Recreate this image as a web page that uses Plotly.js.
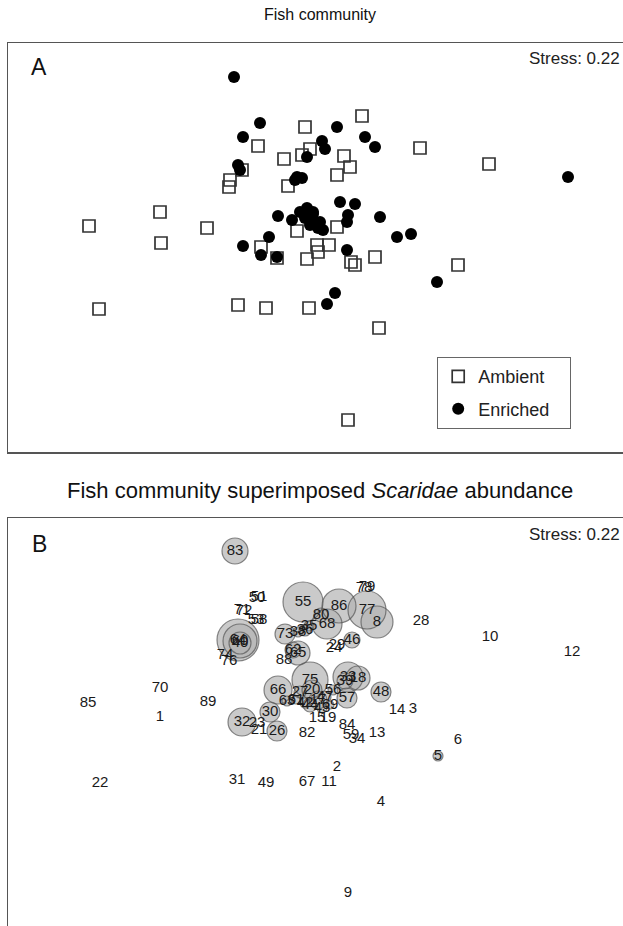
<!DOCTYPE html>
<html>
<head>
<meta charset="utf-8">
<script src="https://cdn.plot.ly/plotly-3.0.1.min.js"></script>
<style>
html,body{margin:0;padding:0;overflow:hidden;background:#fff;}
#chart{width:632px;height:940px;}
</style>
</head>
<body>
<div id="chart"></div>
<script>
// ---- Panel A: NMDS coordinates by treatment ----
const ambientX = [0.42,-0.15,-0.62,-0.10,-0.18,-0.36,0.24,0.30,0.17,1.00,1.69,-0.78,-0.90,-0.91,-0.32,-1.60,-2.31,-1.13,0.17,-1.59,-0.23,-0.03,0.09,-0.59,-0.43,-0.13,0.31,0.35,0.55,1.38,-2.21,-0.82,-0.54,-0.11,0.59,0.28,-0.02];
const ambientY = [1.34,1.23,1.04,1.01,0.95,0.91,0.94,0.83,0.75,1.02,0.86,0.80,0.70,0.63,0.64,0.38,0.24,0.22,0.23,0.07,0.19,0.05,0.05,0.03,-0.08,-0.09,-0.12,-0.15,-0.07,-0.15,-0.59,-0.55,-0.58,-0.58,-0.78,-1.70,-0.02];
const enrichedX = [-0.86,-0.60,-0.77,0.17,0.02,0.05,0.45,0.55,-0.13,-0.82,-0.80,-0.23,-0.18,-0.25,2.48,-0.42,-0.28,-0.13,-0.07,-0.15,-0.08,-0.05,-0.02,0.03,-0.10,0.00,0.20,0.35,0.28,0.27,0.60,0.77,0.91,-0.51,-0.77,-0.59,-0.43,0.27,0.15,0.07,1.17,-0.07,-0.20];
const enrichedY = [1.73,1.27,1.13,1.23,1.09,1.01,1.13,1.03,0.93,0.85,0.80,0.73,0.72,0.70,0.73,0.34,0.30,0.42,0.38,0.32,0.30,0.27,0.22,0.20,0.25,0.28,0.48,0.46,0.35,0.28,0.33,0.13,0.16,0.13,0.04,-0.05,-0.07,0.00,-0.43,-0.54,-0.32,0.36,0.38];
const groupNames = ['Ambient', 'Enriched'];

// ---- Panel B: sites with Scaridae abundance ----
const siteLabels = ["83","55","86","68","80","77","8","73","46","38","36","35","64","60","40","65","62","66","75","20","27","17","42","47","61","43","44","69","63","56","33","18","39","48","57","32","30","26","5",
  "79","78","51","50","72","71","58","53","24","29","76","74","88","28","10","12","85","70","1","89","22","31","49","67","11","2","4","9","14","3","13","6","84","59","34","15","19","82","23","21"];
const siteX = [-0.85,-0.17,0.19,0.07,0.01,0.47,0.57,-0.35,0.32,-0.22,-0.15,-0.11,-0.82,-0.80,-0.80,-0.22,-0.27,-0.42,-0.10,-0.08,-0.20,-0.02,-0.15,0.05,-0.24,0.02,-0.10,0.10,-0.33,0.13,0.28,0.38,0.25,0.61,0.27,-0.78,-0.50,-0.43,1.18,
  0.47,0.44,-0.61,-0.63,-0.76,-0.78,-0.61,-0.64,0.14,0.17,-0.91,-0.95,-0.36,1.01,1.70,2.52,-2.32,-1.60,-1.60,-1.12,-2.20,-0.83,-0.54,-0.13,0.09,0.17,0.61,0.28,0.77,0.93,0.57,1.38,0.27,0.31,0.37,-0.03,0.08,-0.13,-0.63,-0.61];
const siteY = [1.74,1.23,1.19,1.01,1.10,1.15,1.03,0.91,0.85,0.93,0.95,0.99,0.85,0.84,0.82,0.72,0.75,0.35,0.45,0.35,0.33,0.25,0.22,0.28,0.25,0.17,0.20,0.20,0.24,0.35,0.48,0.47,0.44,0.33,0.27,0.03,0.13,-0.06,-0.31,
  1.38,1.37,1.28,1.27,1.14,1.15,1.05,1.05,0.77,0.80,0.64,0.70,0.65,1.04,0.88,0.73,0.22,0.37,0.08,0.23,-0.58,-0.55,-0.58,-0.57,-0.57,-0.42,-0.77,-1.68,0.15,0.16,-0.08,-0.15,0.00,-0.10,-0.14,0.07,0.07,-0.08,0.02,-0.05];
const scaridae = [13,20,17,15,7,19,16,10,8,5,6,5,21,17,11,12,8,14,18,10,6,9,5,6,4,5,7,4,5,5,15,12,8,10,10,14,10,10,5,
  0,0,0,0,0,0,0,0,0,0,0,0,0,0,0,0,0,0,0,0,0,0,0,0,0,0,0,0,0,0,0,0,0,0,0,0,0,0,0,0];

const FONT = '"Liberation Sans", Arial, Helvetica, sans-serif';
const PAD = '\u00a0\u00a0\u00a0'; // widens the legend box like the reference

const bx = [], by = [], bs = [];
for (let i = 0; i < siteLabels.length; i++) {
  if (scaridae[i] > 0) { bx.push(siteX[i]); by.push(siteY[i]); bs.push(scaridae[i]); }
}

const traces = [
  {type:'scatter', mode:'markers', name:groupNames[0], x:ambientX, y:ambientY, xaxis:'x', yaxis:'y',
   legendgroup:'a', marker:{symbol:'square-open', size:12, color:'#333', line:{width:1.7, color:'#333'}}},
  {type:'scatter', mode:'markers', name:groupNames[1] + PAD, x:enrichedX, y:enrichedY, xaxis:'x', yaxis:'y',
   legendgroup:'e', marker:{symbol:'circle', size:12, color:'#000'}},
  {type:'scatter', mode:'markers', x:bx, y:by, xaxis:'x2', yaxis:'y2', showlegend:false, hoverinfo:'skip',
   marker:{symbol:'circle', size:bs, sizemode:'diameter', sizeref:0.5, color:'#b3b3b3', line:{width:0}}},
  {type:'scatter', mode:'markers', x:bx, y:by, xaxis:'x2', yaxis:'y2', showlegend:false, hoverinfo:'skip',
   marker:{symbol:'circle-open', size:bs, sizemode:'diameter', sizeref:0.5, color:'#555', line:{width:1.2, color:'#555'}}},
  {type:'scatter', mode:'text', x:siteX, y:siteY, text:siteLabels, xaxis:'x2', yaxis:'y2', showlegend:false,
   textposition:'middle center', textfont:{family:FONT, size:15, color:'#1a1a1a'}}
];

const H = 940, L = 8, PW = 623;
const py = p => 1 - p / H;
const px = p => (p - L) / PW;

const axBase = {showline:true, mirror:true, linecolor:'#555', linewidth:1.5, showgrid:false, zeroline:false,
  showticklabels:false, ticks:'', fixedrange:true};

const layout = {
  width:632, height:H,
  margin:{l:L, r:1, t:0, b:0},
  paper_bgcolor:'#fff', plot_bgcolor:'#fff',
  font:{family:FONT, color:'#111'},
  showlegend:true,
  legend:{x:px(437), y:py(357), xanchor:'left', yanchor:'top', bgcolor:'#fff', bordercolor:'#666', borderwidth:1.2,
    font:{family:FONT, size:18, color:'#222'}, tracegroupgap:6, traceorder:'grouped'},
  xaxis:Object.assign({}, axBase, {domain:[0,1], range:[-3.12, 3.11], anchor:'y'}),
  yaxis:Object.assign({}, axBase, {domain:[py(452), py(43)], range:[-2.02, 2.07], anchor:'x'}),
  xaxis2:Object.assign({}, axBase, {domain:[0,1], range:[-3.12, 3.11], anchor:'y2'}),
  yaxis2:Object.assign({}, axBase, {domain:[py(935), py(518)], range:[-2.10, 2.07], anchor:'x2'}),
  annotations:[
    {text:'Fish community', xref:'paper', yref:'paper', x:0.5, y:py(15), xanchor:'center', yanchor:'middle', showarrow:false, font:{family:FONT, size:16, color:'#111'}},
    {text:'Fish community superimposed <i>Scaridae</i> abundance', xref:'paper', yref:'paper', x:0.5, y:py(491), xanchor:'center', yanchor:'middle', showarrow:false, font:{family:FONT, size:22, color:'#111'}},
    {text:'A', xref:'paper', yref:'paper', x:px(39), y:py(67), xanchor:'center', yanchor:'middle', showarrow:false, font:{family:FONT, size:23, color:'#111'}},
    {text:'B', xref:'paper', yref:'paper', x:px(39), y:py(544), xanchor:'center', yanchor:'middle', showarrow:false, font:{family:FONT, size:23, color:'#111'}},
    {text:'Stress: 0.22', xref:'paper', yref:'paper', x:px(622), y:py(59), xanchor:'right', yanchor:'middle', showarrow:false, font:{family:FONT, size:17, color:'#222'}},
    {text:'Stress: 0.22', xref:'paper', yref:'paper', x:px(622), y:py(534), xanchor:'right', yanchor:'middle', showarrow:false, font:{family:FONT, size:17, color:'#222'}}
  ]
};

Plotly.newPlot('chart', traces, layout, {staticPlot:true, displayModeBar:false});
</script>
</body>
</html>
